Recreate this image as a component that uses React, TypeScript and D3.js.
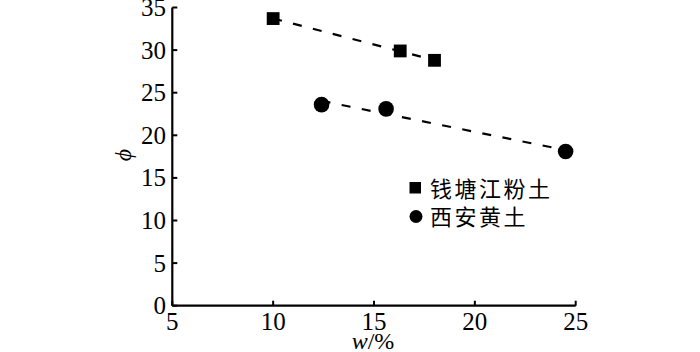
import React from "react";
import * as d3 from "d3";

const xTicks = [5, 10, 15, 20, 25];
const yTicks = [0, 5, 10, 15, 20, 25, 30, 35];

const qiantangW = [10.0, 16.3, 18.0];
const qiantangPhi = [33.7, 29.9, 28.8];
const xianW = [12.4, 15.6, 24.5];
const xianPhi = [23.6, 23.1, 18.1];

const seriesNames = ["钱塘江粉土", "西安黄土"];

const W = 700;
const H = 352;

function fit(xs: number[], ys: number[]) {
  const mx = d3.mean(xs)!;
  const my = d3.mean(ys)!;
  let sxy = 0, sxx = 0;
  xs.forEach((x, i) => {
    sxy += (x - mx) * (ys[i] - my);
    sxx += (x - mx) * (x - mx);
  });
  const b = sxy / sxx;
  const a = my - b * mx;
  const x0 = d3.min(xs)!, x1 = d3.max(xs)!;
  return [
    [x0, a + b * x0],
    [x1, a + b * x1],
  ] as [number, number][];
}

export default function App() {
  const x = d3.scaleLinear().domain([5, 25]).range([172.3, 575.7]);
  const y = d3.scaleLinear().domain([0, 35]).range([305.7, 7.5]);
  const line = d3
    .line<[number, number]>()
    .x((d) => x(d[0]))
    .y((d) => y(d[1]));
  const numFont = "'Liberation Serif', 'Times New Roman', serif";
  const cjkFont = "'Noto Sans CJK SC', sans-serif";
  const sq = 12.8;
  const r = 7.8;
  return (
    <svg
      width={W}
      height={H}
      style={{ position: "absolute", left: 0, top: 0, background: "#fff" }}
    >
      {/* trend lines */}
      <path
        d={line(fit(qiantangW, qiantangPhi))!}
        fill="none"
        stroke="#000"
        strokeWidth={2.2}
        strokeDasharray="9,11.5"
      />
      <path
        d={line(fit(xianW, xianPhi))!}
        fill="none"
        stroke="#000"
        strokeWidth={2.2}
        strokeDasharray="9,11.5"
      />
      {/* axes */}
      <line x1={x(5)} x2={x(25)} y1={y(0)} y2={y(0)} stroke="#000" strokeWidth={2.2} />
      <line x1={x(5)} x2={x(5)} y1={y(0)} y2={y(35)} stroke="#000" strokeWidth={2.2} />
      {xTicks.map((t) => (
        <g key={"xt" + t}>
          <line x1={x(t)} x2={x(t)} y1={y(0)} y2={y(0) - 5} stroke="#000" strokeWidth={2} />
          <text
            x={x(t)}
            y={330}
            textAnchor="middle"
            fontFamily={numFont}
            fontSize={25}
            fill="#000"
          >
            {t}
          </text>
        </g>
      ))}
      {yTicks.map((t) => (
        <g key={"yt" + t}>
          <line x1={x(5)} x2={x(5) + 5} y1={y(t)} y2={y(t)} stroke="#000" strokeWidth={2} />
          <text
            x={166}
            y={y(t) + 8.5}
            textAnchor="end"
            fontFamily={numFont}
            fontSize={25}
            fill="#000"
          >
            {t}
          </text>
        </g>
      ))}
      {/* axis titles */}
      <text
        x={373}
        y={349}
        textAnchor="middle"
        fontFamily={numFont}
        fontSize={24}
        fill="#000"
      >
        <tspan fontStyle="italic">w</tspan>/%
      </text>
      <text
        transform="translate(131,155) rotate(-90)"
        textAnchor="middle"
        fontFamily={numFont}
        fontStyle="italic"
        fontSize={24}
        fill="#000"
      >
        ϕ
      </text>
      {/* markers */}
      {qiantangW.map((w, i) => (
        <rect
          key={"s" + i}
          x={x(w) - sq / 2}
          y={y(qiantangPhi[i]) - sq / 2}
          width={sq}
          height={sq}
          fill="#000"
        />
      ))}
      {xianW.map((w, i) => (
        <circle key={"c" + i} cx={x(w)} cy={y(xianPhi[i])} r={r} fill="#000" />
      ))}
      {/* legend */}
      <rect x={409.5} y={182} width={11.5} height={11.5} fill="#000" />
      <text x={430} y={196.5} fontFamily={cjkFont} fontSize={22} fill="#000" letterSpacing={2.5}>
        {seriesNames[0]}
      </text>
      <circle cx={416} cy={216.5} r={6.5} fill="#000" />
      <text x={430} y={225} fontFamily={cjkFont} fontSize={22} fill="#000" letterSpacing={2.5}>
        {seriesNames[1]}
      </text>
    </svg>
  );
}
